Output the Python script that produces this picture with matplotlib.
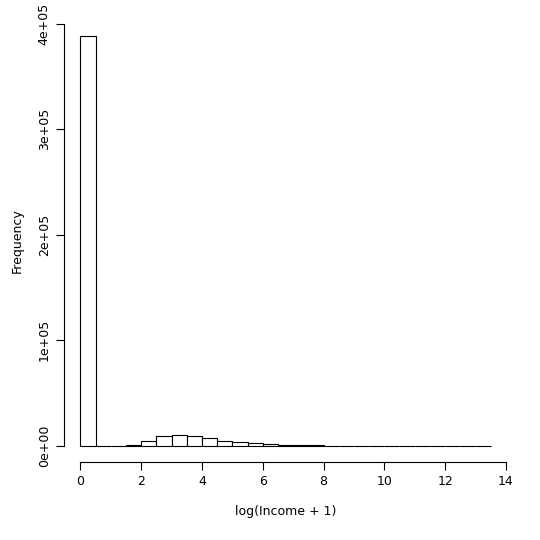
import matplotlib
matplotlib.use("Agg")
import matplotlib.pyplot as plt
import numpy as np

breaks = np.arange(0, 14.0, 0.5)
counts = [388000, 0, 0, 500, 4700, 9500, 10400, 9000, 7300, 4700, 3500, 2200, 1500, 700, 600,
          150, 80, 50, 30, 20, 15, 10, 8, 5, 4, 3, 2]
xticks = [0, 2, 4, 6, 8, 10, 12, 14]
yticks = [0, 1e5, 2e5, 3e5, 4e5]
ylabels = ["0e+00", "1e+05", "2e+05", "3e+05", "4e+05"]

fig = plt.figure(figsize=(5.4, 5.4), dpi=100)
ax = fig.add_axes([0.1185, 0.1444, 0.8205, 0.8186])
ax.bar(breaks[:-1], counts, width=0.5, align="edge", facecolor="white", edgecolor="black", linewidth=0.8)
ax.set_xlim(-0.54, 14.04)
ax.set_ylim(-0.04 * 388000, 1.04 * 388000)
for s in ["top", "right"]:
    ax.spines[s].set_visible(False)
ax.spines["left"].set_bounds(0, 4e5)
ax.spines["bottom"].set_bounds(0, 14)
ax.set_xticks(xticks)
ax.set_yticks(yticks)
ax.set_yticklabels(ylabels, rotation=90, va="center")
ax.tick_params(labelsize=9, length=6)
ax.set_xlabel("log(Income + 1)", fontsize=9, labelpad=12)
ax.set_ylabel("Frequency", fontsize=9, labelpad=10)
fig.savefig("out.png")
